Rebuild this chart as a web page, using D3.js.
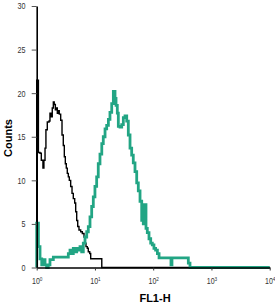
<!DOCTYPE html>
<html>
<head>
<meta charset="utf-8">
<script src="https://cdn.jsdelivr.net/npm/d3@7"></script>
<style>
  body { margin: 0; background: #fff; }
  .tick text { font-family: "Liberation Sans Narrow", "Arial Narrow", "Liberation Sans", sans-serif; fill: #333; }
</style>
</head>
<body>
<script>
// FL1-H values (left edge of each bin) and counts
const controlFL1 = [1.00, 1.07, 1.14, 1.20, 1.28, 1.33, 1.39, 1.44, 1.52, 1.63, 1.69, 1.78, 1.85, 1.93, 2.00, 2.09, 2.17, 2.26, 2.35, 2.44, 2.58, 2.72, 2.86, 2.98, 3.10, 3.22, 3.35, 3.49, 3.63, 3.83, 4.04, 4.25, 4.49, 4.67, 4.86, 5.06, 5.32, 5.69, 6.07, 6.49, 6.75, 7.02, 7.39, 7.69, 8.13, 8.45, 13.1, 10000];
const controlCounts = [21.5, 13.2, 13.1, 12.3, 11.4, 12.3, 13.7, 15.8, 16.7, 16.8, 17.7, 17.3, 18.3, 19.0, 18.7, 18.1, 18.3, 17.7, 18.0, 17.6, 16.9, 15.2, 14.0, 12.7, 11.9, 11.4, 10.8, 10.4, 10.0, 9.3, 8.5, 7.9, 7.4, 6.4, 5.4, 4.7, 4.3, 4.1, 3.9, 3.5, 2.8, 2.4, 2.2, 1.8, 1.6, 1.0, 0, 0];

const stainedFL1 = [1.00, 1.07, 1.14, 1.22, 1.30, 1.39, 1.48, 1.58, 1.69, 1.93, 3.49, 3.73, 3.99, 4.25, 4.55, 4.86, 5.18, 5.54, 5.92, 6.31, 6.75, 7.22, 7.69, 8.22, 8.79, 9.37, 10.0, 10.7, 11.4, 12.2, 13.1, 13.9, 14.9, 15.9, 17.0, 18.1, 19.4, 20.7, 22.1, 23.0, 24.2, 25.2, 26.9, 28.8, 30.7, 32.8, 35.1, 37.4, 40.0, 42.7, 45.5, 48.7, 52.1, 55.5, 59.4, 63.5, 67.6, 70.3, 75.2, 79.2, 84.7, 90.6, 96.5, 103, 110, 118, 126, 202, 210, 401, 428, 10000];
const stainedCounts = [5.1, 2.4, 1.0, 0.3, 0.9, 0.3, 0, 0.3, 0.9, 1.2, 1.6, 2.0, 1.6, 2.2, 1.8, 2.2, 2.0, 2.4, 1.8, 2.8, 3.5, 4.1, 4.7, 5.8, 7.0, 8.1, 9.3, 10.4, 11.9, 13.0, 14.2, 15.0, 15.9, 16.3, 17.0, 17.8, 18.8, 20.2, 19.4, 18.6, 17.7, 16.2, 16.1, 16.4, 17.2, 17.4, 16.8, 15.2, 13.7, 12.9, 12.0, 11.0, 9.7, 8.8, 7.6, 5.4, 5.0, 7.2, 4.5, 4.0, 3.3, 2.8, 2.6, 2.2, 2.0, 1.6, 1.1, 0.3, 1.1, 0.5, 0, 0];

const xTicks = [1, 10, 100, 1000, 10000];
const yTicks = [0, 5, 10, 15, 20, 25, 30];

let width = 275, height = 308;
let margin = { top: 6, right: 5.3, bottom: 40.5, left: 36.7 };
let innerW = width - margin.left - margin.right;
let innerH = height - margin.top - margin.bottom;

let svg = d3.select("body").append("svg")
    .attr("width", width)
    .attr("height", height);

let g = svg.append("g")
    .attr("transform", `translate(${margin.left},${margin.top})`);

let x = d3.scaleLog().domain([1, 10000]).range([0, innerW]);
let y = d3.scaleLinear().domain([0, 30]).range([innerH, 0]);

// histogram outline as a step line, starting from the baseline
let line = d3.line()
    .x(d => x(d[0]))
    .y(d => y(d[1]))
    .curve(d3.curveStepAfter);

function series(xs, ys) {
    let pts = xs.map((v, i) => [v, ys[i]]);
    return [[xs[0], 0]].concat(pts);
}

g.append("path")
    .datum(series(controlFL1, controlCounts))
    .attr("fill", "none")
    .attr("stroke", "#000")
    .attr("stroke-width", 1.4)
    .attr("d", line);

g.append("path")
    .datum(series(stainedFL1, stainedCounts))
    .attr("fill", "none")
    .attr("stroke", "#22a584")
    .attr("stroke-width", 2.8)
    .attr("d", line);

// Y axis
let yAxis = g.append("g")
    .call(d3.axisLeft(y).tickValues(yTicks).tickSize(5).tickSizeOuter(0).tickPadding(9));
yAxis.select(".domain").attr("stroke", "#000").attr("stroke-width", 1.6);
yAxis.selectAll(".tick line").attr("stroke", "#555");
yAxis.selectAll(".tick text")
    .style("font-size", "9px")
    .attr("transform", "scale(0.8,1)");

// X axis with 10^n labels
let xAxis = g.append("g")
    .attr("transform", `translate(0,${innerH})`)
    .call(d3.axisBottom(x).tickValues(xTicks).tickSize(3).tickSizeOuter(0).tickPadding(7));
xAxis.select(".domain").attr("stroke", "#000").attr("stroke-width", 1.3);
xAxis.selectAll(".tick line").attr("stroke", "#333");
xAxis.selectAll(".tick text")
    .style("font-size", "9px")
    .attr("transform", "scale(0.78,1)")
    .text(null)
    .each(function(d) {
        let t = d3.select(this);
        t.append("tspan").text("10");
        t.append("tspan")
            .attr("dy", "-0.45em")
            .style("font-size", "6px")
            .text(Math.round(Math.log10(d)));
    });

// axis titles
svg.append("text")
    .attr("x", 155)
    .attr("y", 302)
    .attr("text-anchor", "middle")
    .style("font-family", "'Liberation Sans', Arial, sans-serif")
    .style("font-weight", "bold")
    .style("font-size", "11px")
    .text("FL1-H");

svg.append("text")
    .attr("transform", "translate(12,138) rotate(-90)")
    .attr("text-anchor", "middle")
    .style("font-family", "'Liberation Sans', Arial, sans-serif")
    .style("font-weight", "bold")
    .style("font-size", "11px")
    .text("Counts");
</script>
</body>
</html>
